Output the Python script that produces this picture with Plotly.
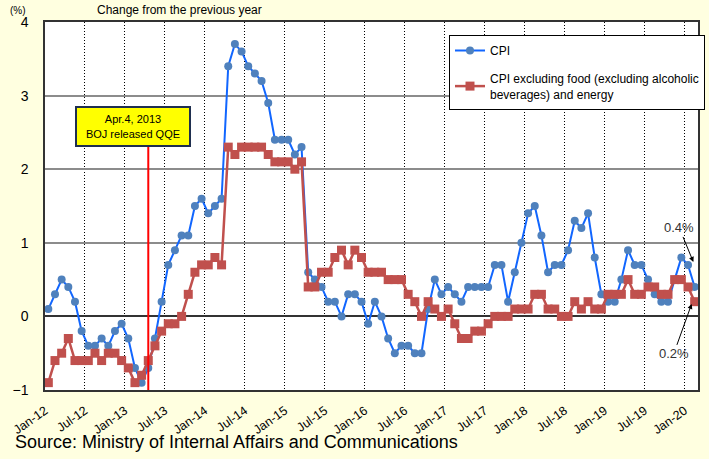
import pandas as pd
import plotly.graph_objects as go

# Monthly series, Jan-2012 .. Feb-2020 (year-on-year % change)
months = [d.strftime("%b-%y") for d in pd.date_range("2012-01-01", "2020-02-01", freq="MS")]

cpi = [
    0.1, 0.3, 0.5, 0.4, 0.2, -0.2, -0.4, -0.4, -0.3, -0.4, -0.2, -0.1,   # 2012
    -0.3, -0.7, -0.9, -0.7, -0.3, 0.2, 0.7, 0.9, 1.1, 1.1, 1.5, 1.6,     # 2013
    1.4, 1.5, 1.6, 3.4, 3.7, 3.6, 3.4, 3.3, 3.2, 2.9, 2.4, 2.4,          # 2014
    2.4, 2.2, 2.3, 0.6, 0.5, 0.4, 0.2, 0.2, 0.0, 0.3, 0.3, 0.2,          # 2015
    -0.1, 0.2, 0.0, -0.3, -0.5, -0.4, -0.4, -0.5, -0.5, 0.1, 0.5, 0.3,   # 2016
    0.4, 0.3, 0.2, 0.4, 0.4, 0.4, 0.4, 0.7, 0.7, 0.2, 0.6, 1.0,          # 2017
    1.4, 1.5, 1.1, 0.6, 0.7, 0.7, 0.9, 1.3, 1.2, 1.4, 0.8, 0.3,          # 2018
    0.2, 0.2, 0.5, 0.9, 0.7, 0.7, 0.5, 0.3, 0.2, 0.2, 0.5, 0.8,          # 2019
    0.7, 0.4,                                                            # 2020
]

core = [
    -0.9, -0.6, -0.5, -0.3, -0.6, -0.6, -0.6, -0.5, -0.6, -0.5, -0.5, -0.6,  # 2012
    -0.7, -0.9, -0.8, -0.6, -0.4, -0.2, -0.1, -0.1, 0.0, 0.3, 0.6, 0.7,      # 2013
    0.7, 0.8, 0.7, 2.3, 2.2, 2.3, 2.3, 2.3, 2.3, 2.2, 2.1, 2.1,              # 2014
    2.1, 2.0, 2.1, 0.4, 0.4, 0.6, 0.6, 0.8, 0.9, 0.7, 0.9, 0.8,              # 2015
    0.6, 0.6, 0.6, 0.5, 0.5, 0.5, 0.3, 0.2, 0.0, 0.2, 0.1, 0.0,              # 2016
    0.1, -0.1, -0.3, -0.3, -0.2, -0.2, -0.1, 0.0, 0.0, 0.0, 0.1, 0.1,        # 2017
    0.1, 0.3, 0.3, 0.1, 0.1, 0.0, 0.0, 0.2, 0.1, 0.2, 0.1, 0.1,              # 2018
    0.3, 0.3, 0.3, 0.5, 0.3, 0.3, 0.4, 0.4, 0.3, 0.3, 0.5, 0.5,              # 2019
    0.4, 0.2,                                                                # 2020
]

tick_labels = ["Jan-12", "Jul-12", "Jan-13", "Jul-13", "Jan-14", "Jul-14", "Jan-15",
               "Jul-15", "Jan-16", "Jul-16", "Jan-17", "Jul-17", "Jan-18", "Jul-18",
               "Jan-19", "Jul-19", "Jan-20"]

y_ticks = [-1, 0, 1, 2, 3, 4]

x_idx = list(range(len(months)))
tick_pos = [months.index(t) - 0.5 for t in tick_labels]
qqe_idx = months.index("Apr-13")

FONT = "Arial, Liberation Sans, sans-serif"

fig = go.Figure()
fig.add_trace(go.Scatter(
    x=x_idx, y=cpi, name="CPI", mode="lines+markers",
    line=dict(color="#1166FF", width=2),
    marker=dict(symbol="circle", size=8, color="#4F81BD"),
    legendgroup="a", customdata=months,
))
fig.add_trace(go.Scatter(
    x=x_idx, y=core,
    name="CPI excluding food (excluding alcoholic<br>beverages) and energy",
    mode="lines+markers",
    line=dict(color="#C0504D", width=2.5),
    marker=dict(symbol="square", size=9, color="#C0504D"),
    legendgroup="b", customdata=months,
))

# QQE vertical line
fig.add_shape(type="line", xref="x", yref="y", x0=qqe_idx, x1=qqe_idx, y0=-1, y1=2.31,
              line=dict(color="#FF0000", width=2), layer="above")

fig.add_annotation(
    x=(3.95 + 21.35) / 2, y=(2.31 + 2.86) / 2, xref="x", yref="y",
    text="Apr.4, 2013<br>BOJ released QQE", showarrow=False,
    font=dict(family=FONT, size=11, color="#000000"),
    bgcolor="#FFFF00", bordercolor="#1F2F4F", borderwidth=2, borderpad=2,
    width=108, height=33, align="center",
)

# Latest value callouts
fig.add_annotation(x=96.8, y=0.74, xref="x", yref="y", text="0.4%",
                   showarrow=True, ax=-14, ay=-34, arrowhead=2, arrowsize=1, arrowwidth=1,
                   arrowcolor="#000000", font=dict(family=FONT, size=13, color="#333333"))
fig.add_annotation(x=96.55, y=0.17, xref="x", yref="y", text="0.2%",
                   showarrow=True, ax=-18, ay=50, arrowhead=2, arrowsize=1, arrowwidth=1,
                   arrowcolor="#000000", font=dict(family=FONT, size=13, color="#333333"))

# Header texts and source
W_PLOT, H_PLOT, L, T = 653, 368, 45, 22
def px(xp):
    return (xp - L) / W_PLOT
def py(yp):
    return (T + H_PLOT - yp) / H_PLOT

fig.add_annotation(x=px(8), y=py(10), xref="paper", yref="paper", text="(%)",
                   showarrow=False, xanchor="left", yanchor="middle",
                   font=dict(family=FONT, size=10, color="#000000"))
fig.add_annotation(x=px(95), y=py(10), xref="paper", yref="paper",
                   text="Change from the previous year", showarrow=False,
                   xanchor="left", yanchor="middle",
                   font=dict(family=FONT, size=12, color="#000000"))
fig.add_annotation(x=px(13), y=py(442), xref="paper", yref="paper",
                   text="Source: Ministry of Internal Affairs and Communications",
                   showarrow=False, xanchor="left", yanchor="middle",
                   font=dict(family=FONT, size=18, color="#000000"))

fig.update_layout(
    width=709, height=459,
    margin=dict(l=L, r=709 - L - W_PLOT, t=T, b=459 - T - H_PLOT, autoexpand=False),
    paper_bgcolor="#FFFFE0", plot_bgcolor="#FFFFFF",
    font=dict(family=FONT, size=12, color="#000000"),
    showlegend=True,
    legend=dict(x=px(449), y=py(35), xanchor="left", yanchor="top",
                bgcolor="#FFFFFF", bordercolor="#000000", borderwidth=1,
                font=dict(family=FONT, size=12, color="#000000"),
                tracegroupgap=9, itemwidth=30),
)

fig.update_xaxes(
    range=[-0.5, len(months) - 0.5], tickmode="array", tickvals=tick_pos, ticktext=tick_labels,
    tickangle=-35, showgrid=True, gridcolor="#000000", griddash="1px,2px", gridwidth=1,
    zeroline=False, showline=True, linecolor="#333333", linewidth=1.5, mirror=True,
    ticks="", ticklabelstandoff=7, automargin=False,
    tickfont=dict(family=FONT, size=12.5, color="#000000"),
)
fig.update_yaxes(
    range=[-1, 4], tickmode="array", tickvals=y_ticks,
    showgrid=True, gridcolor="#8C8C8C", gridwidth=1.5,
    zeroline=True, zerolinecolor="#333333", zerolinewidth=1.5,
    showline=True, linecolor="#333333", linewidth=1.5, mirror=True,
    ticks="", ticklabelstandoff=12, automargin=False,
    tickfont=dict(family=FONT, size=14, color="#000000"),
)

fig.write_html("out.html", config={"displayModeBar": False},
               post_script="document.body.style.margin='0';")
